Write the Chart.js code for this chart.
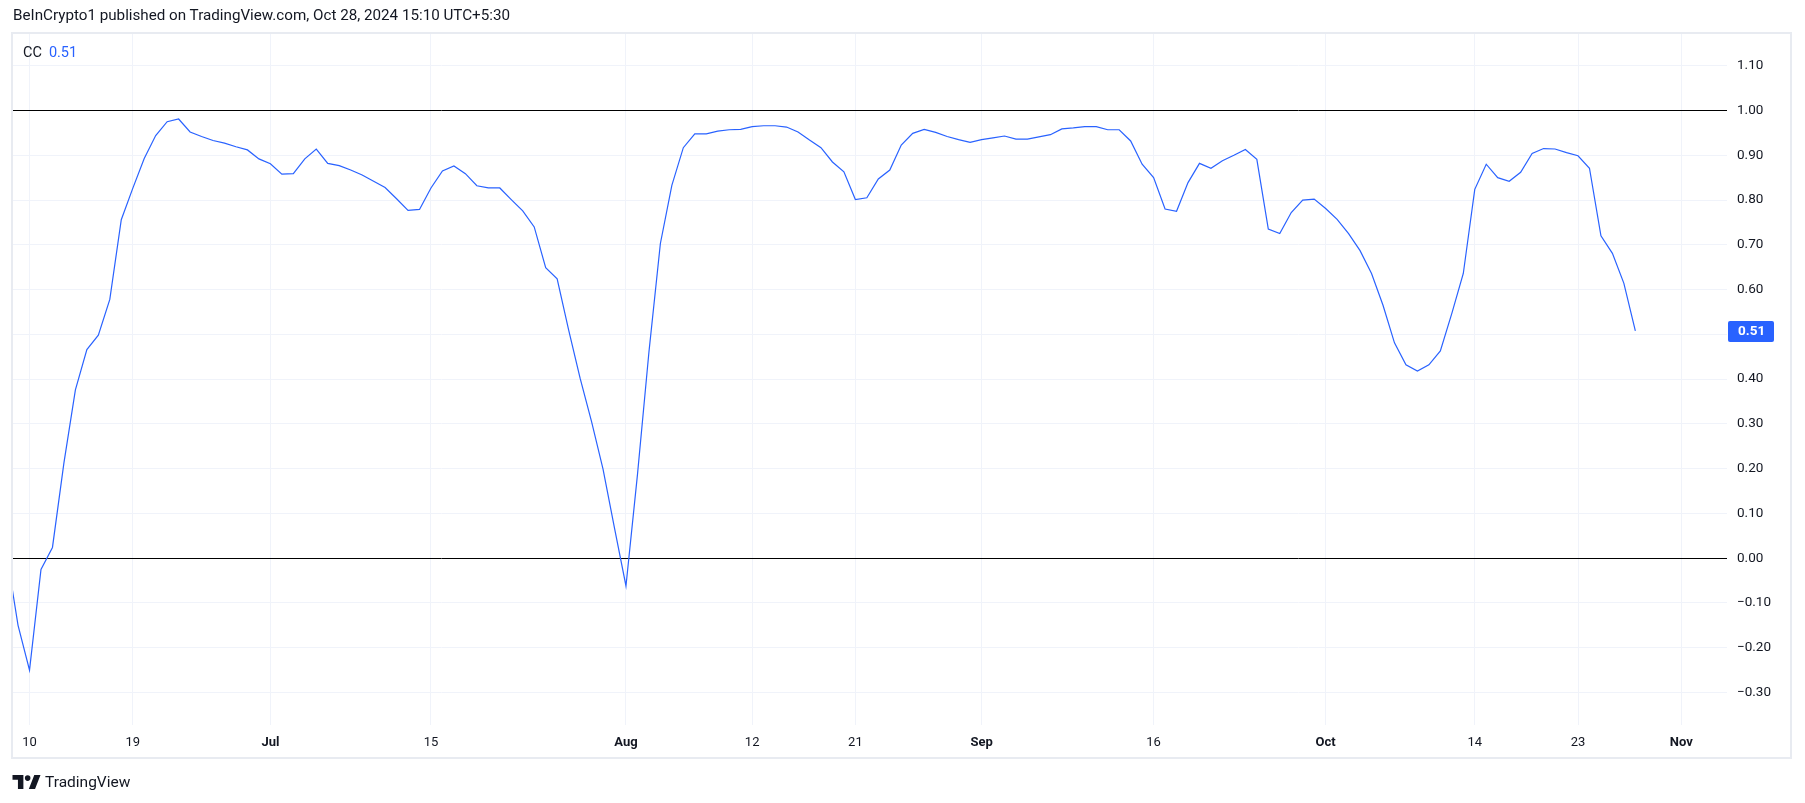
<!DOCTYPE html>
<html lang="en">
<head>
    <meta charset="UTF-8">
    <title>CC 0.51</title>
    <script src="https://cdn.jsdelivr.net/npm/chart.js"></script>
    <style>
        body { margin: 0; background: #fff; font-family: Roboto, "Liberation Sans", sans-serif; color: #131722; }
        #wrap { position: relative; width: 1805px; height: 803px; }
        #chart { position: absolute; left: 0; top: 0; }
        .txt { position: absolute; white-space: nowrap; }
        #header { left: 13px; top: 6px; font-size: 15.2px; }
        #legend { left: 23px; top: 44px; font-size: 14.5px; }
        #legend span { color: #2962FF; margin-left: 7px; }
        #footer { left: 12px; top: 773px; font-size: 15.5px; display: flex; align-items: center; }
        #footer svg { margin-right: 4px; }
    </style>
</head>
<body>
<div id="wrap">
    <canvas id="chart" width="1805" height="803"></canvas>
    <div class="txt" id="header">BeInCrypto1 published on TradingView.com, Oct 28, 2024 15:10 UTC+5:30</div>
    <div class="txt" id="legend">CC<span>0.51</span></div>
    <div class="txt" id="footer">
        <svg width="29" height="14" viewBox="0 0 36 18"><path d="M0 0h14v18H7V6H0z M21 18l7-18h8l-7 18z" fill="#131722"/><circle cx="19.5" cy="4" r="3.6" fill="#131722"/></svg>TradingView
    </div>
</div>
<script>
    // days counted from Jun 10 2024 (day 0), one value per day from Jun 8 to Oct 28
    const firstDay = -2;
    const ccValues = [
        0.01, -0.15,                                                  // Jun 8-9
        -0.25, -0.025, 0.024, 0.213, 0.376, 0.466, 0.498, 0.578, 0.756, 0.826,   // Jun 10-19
        0.893, 0.944, 0.975, 0.981, 0.952, 0.942, 0.933, 0.927, 0.919, 0.912,    // Jun 20-29
        0.892,                                                         // Jun 30
        0.881, 0.858, 0.859, 0.892, 0.914, 0.882, 0.877, 0.867, 0.856, 0.842,    // Jul 1-10
        0.828, 0.803, 0.777, 0.779, 0.827, 0.865, 0.876, 0.859, 0.832, 0.827,    // Jul 11-20
        0.827, 0.801, 0.776, 0.740, 0.649, 0.624, 0.510, 0.402, 0.305, 0.199,    // Jul 21-30
        0.067,                                                         // Jul 31
        -0.062, 0.186, 0.46, 0.703, 0.833, 0.917, 0.948, 0.948, 0.954, 0.957,    // Aug 1-10
        0.958, 0.964, 0.966, 0.966, 0.963, 0.952, 0.934, 0.917, 0.885, 0.863,    // Aug 11-20
        0.801, 0.805, 0.847, 0.867, 0.923, 0.949, 0.958, 0.951, 0.942, 0.935,    // Aug 21-30
        0.929,                                                         // Aug 31
        0.935, 0.939, 0.943, 0.936, 0.936, 0.941, 0.946, 0.959, 0.961, 0.964,    // Sep 1-10
        0.964, 0.957, 0.957, 0.932, 0.880, 0.850, 0.780, 0.775, 0.839, 0.882,    // Sep 11-20
        0.871, 0.888, 0.900, 0.913, 0.891, 0.735, 0.725, 0.772, 0.800, 0.802,    // Sep 21-30
        0.781, 0.757, 0.725, 0.687, 0.636, 0.565, 0.481, 0.432, 0.418, 0.432,    // Oct 1-10
        0.463, 0.547, 0.636, 0.824, 0.880, 0.850, 0.842, 0.862, 0.904, 0.915,    // Oct 11-20
        0.914, 0.906, 0.899, 0.871, 0.720, 0.681, 0.614, 0.508                   // Oct 21-28
    ];
    const xTickDays   = [0, 9, 21, 35, 52, 63, 72, 83, 98, 113, 126, 135, 144];
    const xTickLabels = ['10', '19', 'Jul', '15', 'Aug', '12', '21', 'Sep', '16', 'Oct', '14', '23', 'Nov'];
    const monthLabels = ['Jul', 'Aug', 'Sep', 'Oct', 'Nov'];
    const yTickValues = [-0.3, -0.2, -0.1, 0, 0.1, 0.2, 0.3, 0.4, 0.5, 0.6, 0.7, 0.8, 0.9, 1.0, 1.1];
    const levelLines  = [0, 1];

    const points = ccValues.map((v, i) => ({ x: i + firstDay, y: v }));
    const lastValue = ccValues[ccValues.length - 1];

    const textColor = '#131722';
    const gridColor = '#f0f3fa';
    const lineColor = '#2962FF';

    const overlay = {
        id: 'overlay',
        afterDraw(chart) {
            const ctx = chart.ctx;
            const area = chart.chartArea;
            // last value badge on the price scale
            const y = chart.scales.y.getPixelForValue(lastValue);
            ctx.save();
            ctx.fillStyle = lineColor;
            ctx.beginPath();
            ctx.roundRect(area.right + 1, Math.round(y) - 10, 46, 21, 2);
            ctx.fill();
            ctx.fillStyle = '#fff';
            ctx.font = 'bold 13.5px Roboto, sans-serif';
            ctx.textBaseline = 'middle';
            ctx.fillText(lastValue.toFixed(2), area.right + 11, Math.round(y) + 0.5);
            // outer frame
            ctx.strokeStyle = '#e8ebf1';
            ctx.lineWidth = 2;
            ctx.strokeRect(12, 33, 1779, 725);
            ctx.restore();
        }
    };

    new Chart(document.getElementById('chart'), {
        type: 'line',
        data: {
            datasets: [{
                label: 'CC',
                data: points,
                borderColor: lineColor,
                borderWidth: 1.2,
                pointRadius: 0,
                tension: 0
            }]
        },
        options: {
            responsive: false,
            animation: false,
            devicePixelRatio: 1,
            layout: { padding: { left: 13, top: 34, right: 14, bottom: 45 } },
            plugins: { legend: { display: false }, tooltip: { enabled: false } },
            scales: {
                x: {
                    type: 'linear',
                    min: -1.44,
                    max: 147.99,
                    afterFit: s => { s.height = 33; },
                    afterBuildTicks: s => { s.ticks = xTickDays.map(v => ({ value: v })); },
                    grid: { color: gridColor, drawTicks: false },
                    border: { display: false },
                    ticks: {
                        autoSkip: false,
                        maxRotation: 0,
                        padding: 10,
                        color: textColor,
                        font: c => ({ family: 'Roboto, sans-serif', size: 13,
                            weight: monthLabels.includes(xTickLabels[c.index]) ? 'bold' : 'normal' }),
                        callback: (v, i) => xTickLabels[i]
                    }
                },
                y: {
                    position: 'right',
                    min: -0.3726,
                    max: 1.1709,
                    afterFit: s => { s.width = 64; },
                    afterBuildTicks: s => { s.ticks = yTickValues.map(v => ({ value: v })); },
                    grid: {
                        drawTicks: false,
                        color: c => levelLines.includes(c.tick.value) ? '#000' : gridColor
                    },
                    border: { display: false },
                    ticks: {
                        padding: 10,
                        color: textColor,
                        font: { family: 'Roboto, sans-serif', size: 13.5 },
                        callback: v => (v < 0 ? '\u2212' : '') + Math.abs(v).toFixed(2)
                    }
                }
            }
        },
        plugins: [overlay]
    });
</script>
</body>
</html>
